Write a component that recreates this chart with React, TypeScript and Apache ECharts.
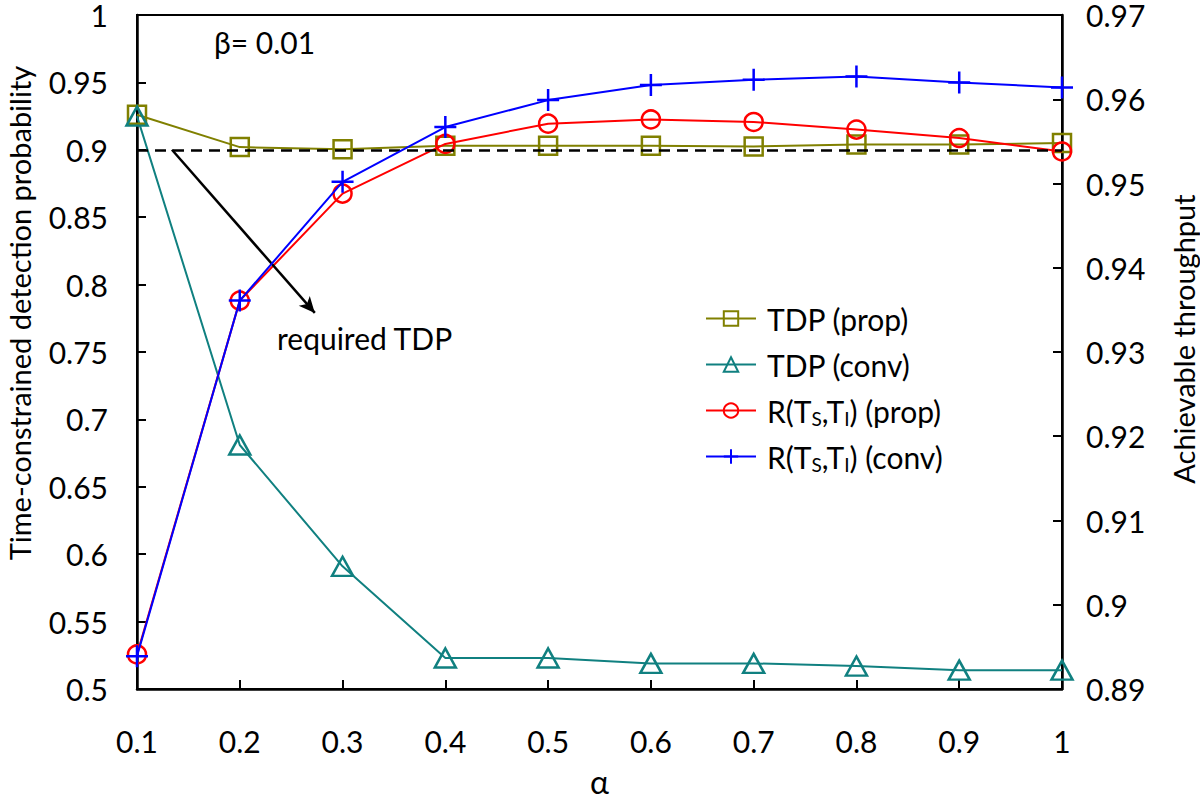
import React, { useEffect, useRef } from "react";
import * as echarts from "echarts";

const alpha = [0.1, 0.2, 0.3, 0.4, 0.5, 0.6, 0.7, 0.8, 0.9, 1.0];
const tdpProp = [0.926, 0.902, 0.9005, 0.903, 0.903, 0.903, 0.9025, 0.904, 0.904, 0.905];
const tdpConv = [0.925, 0.681, 0.591, 0.523, 0.523, 0.519, 0.519, 0.517, 0.514, 0.514];
const rProp = [0.8941, 0.9361, 0.9488, 0.9547, 0.9571, 0.9576, 0.9573, 0.9564, 0.9554, 0.9538];
const rConv = [0.8939, 0.9361, 0.9502, 0.9567, 0.9599, 0.9617, 0.9623, 0.9627, 0.962, 0.9614];

const requiredTDP = 0.9;
const arrowStart = [0.134, 0.9];
const arrowEnd = [0.273, 0.779];

const names = ["TDP (prop)", "TDP (conv)", "R(TS,TI) (prop)", "R(TS,TI) (conv)"];
const leftTitle = "Time-constrained detection probability";
const rightTitle = "Achievable throughput";
const xTitle = "α";

const FONT = "Lato";
const PLUS = "path://M10,0 L10,20 M0,10 L20,10";

function pairs(ys: number[]) {
  return alpha.map((x, i) => [x, ys[i]]);
}

export default function App() {
  const ref = useRef<HTMLDivElement>(null);
  useEffect(() => {
    if (!ref.current) return;
    const chart = echarts.init(ref.current, undefined, { renderer: "svg" });
    const axisLine = { show: true, lineStyle: { color: "#000", width: 2.5 } };
    const axisTick = { show: true, inside: true, length: 9, lineStyle: { color: "#000", width: 2 } };
    const labelStyle = { color: "#000", fontFamily: FONT, fontSize: 30, lineHeight: 20 };
    chart.setOption({
      animation: false,
      backgroundColor: "#fff",
      textStyle: { fontFamily: FONT },
      grid: { left: 137, right: 138, top: 11, bottom: 109, show: true, borderColor: "#000", borderWidth: 2, backgroundColor: "transparent" },
      xAxis: {
        type: "value",
        min: 0.1,
        max: 1,
        interval: 0.1,
        name: xTitle,
        nameLocation: "middle",
        nameGap: 82,
        nameTextStyle: { ...labelStyle, fontSize: 32 },
        axisLine,
        axisTick,
        splitLine: { show: false },
        axisLabel: { ...labelStyle, margin: 42, formatter: (v: number) => String(Math.round(v * 10) / 10) },
      },
      yAxis: [
        {
          type: "value",
          min: 0.5,
          max: 1,
          interval: 0.05,
          axisLine,
          axisTick,
          splitLine: { show: false },
          axisLabel: { ...labelStyle, margin: 29, formatter: (v: number) => String(Math.round(v * 100) / 100) },
        },
        {
          type: "value",
          min: 0.89,
          max: 0.97,
          interval: 0.01,
          position: "right",
          axisLine,
          axisTick,
          splitLine: { show: false },
          axisLabel: { ...labelStyle, margin: 24, formatter: (v: number) => String(Math.round(v * 100) / 100) },
        },
      ],
      legend: {
        orient: "vertical",
        left: 700,
        top: 296,
        itemWidth: 50,
        itemHeight: 18,
        itemGap: 11,
        data: names,
        textStyle: {
          color: "#000",
          fontFamily: FONT,
          fontSize: 30,
          lineHeight: 35,
          padding: [0, 0, 0, 6],
          rich: {
            m: { fontFamily: FONT, fontSize: 30, color: "#000", lineHeight: 35 },
            s: { fontFamily: FONT, fontSize: 19, color: "#000", lineHeight: 35, padding: [15, 0, 0, 0] },
          },
        },
        formatter: (n: string) => {
          if (n.startsWith("R(")) {
            const tail = n.endsWith("(prop)") ? " (prop)" : " (conv)";
            return "{m|R(T}{s|S}{m|,T}{s|I}{m|)" + tail + "}";
          }
          return "{m|" + n + "}";
        },
      },
      series: [
        {
          name: names[0],
          type: "line",
          yAxisIndex: 0,
          data: pairs(tdpProp),
          symbol: "rect",
          symbolSize: 18,
          lineStyle: { color: "#808000", width: 2 },
          itemStyle: { color: "transparent", borderColor: "#808000", borderWidth: 2.5 },
          z: 3,
          markLine: {
            silent: true,
            symbol: ["none", "none"],
            label: { show: false },
            lineStyle: { color: "#000", type: [11, 7], width: 2.5 },
            data: [{ yAxis: requiredTDP }],
          },
        },
        {
          name: names[1],
          type: "line",
          yAxisIndex: 0,
          data: pairs(tdpConv),
          symbol: "triangle",
          symbolSize: [21, 19],
          lineStyle: { color: "#108080", width: 2 },
          itemStyle: { color: "transparent", borderColor: "#108080", borderWidth: 2.5 },
          z: 3,
          markLine: {
            silent: true,
            symbol: ["none", "arrow"],
            symbolSize: [11, 16],
            label: { show: false },
            lineStyle: { color: "#000", type: "solid", width: 2.5 },
            data: [[{ coord: arrowStart }, { coord: arrowEnd }]],
          },
        },
        {
          name: names[2],
          type: "line",
          yAxisIndex: 1,
          data: pairs(rProp),
          symbol: "circle",
          symbolSize: 18,
          lineStyle: { color: "#ff0000", width: 2 },
          itemStyle: { color: "transparent", borderColor: "#ff0000", borderWidth: 2.5 },
          z: 4,
        },
        {
          name: names[3],
          type: "line",
          yAxisIndex: 1,
          data: pairs(rConv),
          symbol: PLUS,
          symbolSize: 22,
          lineStyle: { color: "#0000ff", width: 2 },
          itemStyle: { color: "transparent", borderColor: "#0000ff", borderWidth: 2.5 },
          z: 5,
        },
      ],
      graphic: [
        { type: "text", left: 214, top: 27, style: { text: "β= 0.01", font: `30px ${FONT}`, fill: "#000" } },
        { type: "text", left: 277, top: 323, style: { text: "required TDP", font: `30px ${FONT}`, fill: "#000" } },
        {
          type: "text",
          x: 19,
          y: 313,
          rotation: Math.PI / 2,
          style: { text: leftTitle, font: `29px ${FONT}`, fill: "#000", align: "center", verticalAlign: "middle" },
        },
        {
          type: "text",
          x: 1183,
          y: 339,
          rotation: Math.PI / 2,
          style: { text: rightTitle, font: `29px ${FONT}`, fill: "#000", align: "center", verticalAlign: "middle" },
        },
      ],
    });
    return () => chart.dispose();
  }, []);
  return <div ref={ref} style={{ width: 1200, height: 802, position: "absolute", left: 0, top: 0 }} />;
}
